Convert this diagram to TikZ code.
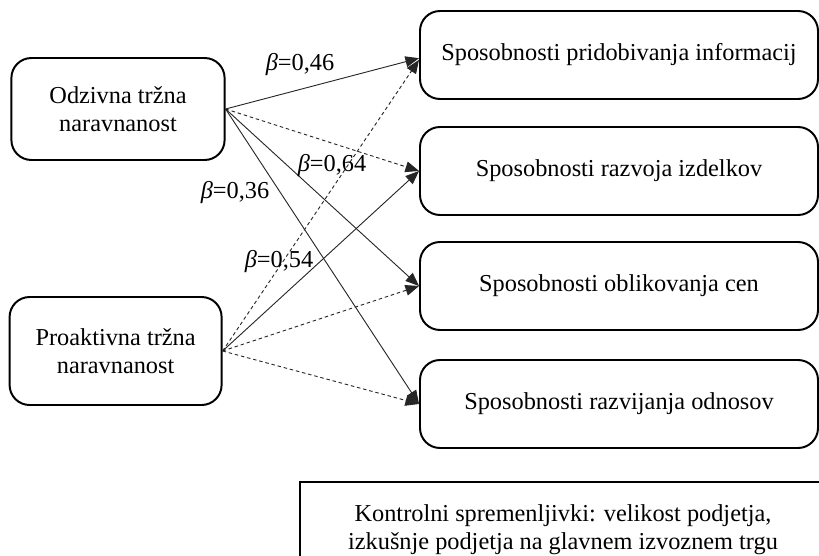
\documentclass[tikz,border=0pt]{standalone}
\usepackage{fontspec}
\setmainfont{Liberation Serif}
\usetikzlibrary{arrows.meta, positioning}

\begin{document}
\begin{tikzpicture}[
    every node/.style={font=\fontsize{17.3}{19.8}\selectfont},
    srcbox/.style={draw, line width=1.4pt, rounded corners=0.5cm, align=center,
                   minimum width=5.33cm, minimum height=2.55cm},
    capbox/.style={draw, line width=1.4pt, rounded corners=0.5cm,
                   minimum width=9.95cm, minimum height=2.2cm},
    pth/.style={draw=black!85, line width=0.65pt, -{Triangle[length=0.34cm,width=0.27cm]}},
    nsig/.style={dash pattern=on 2.5pt off 2pt}
]
    \useasboundingbox (0,0) rectangle (20.475,13.875);
    \clip (0,0) rectangle (20.475,13.875);

    \node[srcbox] (odz) at (2.95,11.15) {Odzivna tržna\\naravnanost};
    \node[srcbox, minimum width=5.3cm, minimum height=2.7cm] (pro) at (2.89,5.1) {Proaktivna tržna\\naravnanost};

    \node[capbox] (info) at (15.475,12.5) {Sposobnosti pridobivanja informacij};
    \node[capbox] (izd) at (15.475,9.6) {Sposobnosti razvoja izdelkov};
    \node[capbox] (cen) at (15.475,6.725) {Sposobnosti oblikovanja cen};
    \node[capbox] (odn) at (15.475,3.775) {Sposobnosti razvijanja odnosov};

    % paths from the responsive orientation
    \draw[pth] (odz.east) -- ([yshift=-0.08cm]info.west);
    \draw[pth, nsig] (odz.east) -- (izd.west);
    \draw[pth] (odz.east) -- (cen.west);
    \draw[pth] (odz.east) -- (odn.west);

    % paths from the proactive orientation
    \draw[pth, nsig] (pro.east) -- ([yshift=-0.12cm]info.west);
    \draw[pth] (pro.east) -- (izd.west);
    \draw[pth, nsig] (pro.east) -- (cen.west);
    \draw[pth, nsig] (pro.east) -- (odn.west);

    \node (b46) at (7.5,12.25) {\textit{β}=0,46};
    \node (b64) at (8.3,9.725) {\textit{β}=0,64};
    \node (b36) at (5.875,9.05) {\textit{β}=0,36};
    \node (b54) at (6.975,7.325) {\textit{β}=0,54};

    \draw[line width=1.4pt] (7.5,-0.125) rectangle (20.65,1.825);
    \node[align=center] (ctrl) at (14.075,0.64) {Kontrolni spremenljivki: velikost podjetja,\\izkušnje podjetja na glavnem izvoznem trgu};
\end{tikzpicture}
\end{document}
